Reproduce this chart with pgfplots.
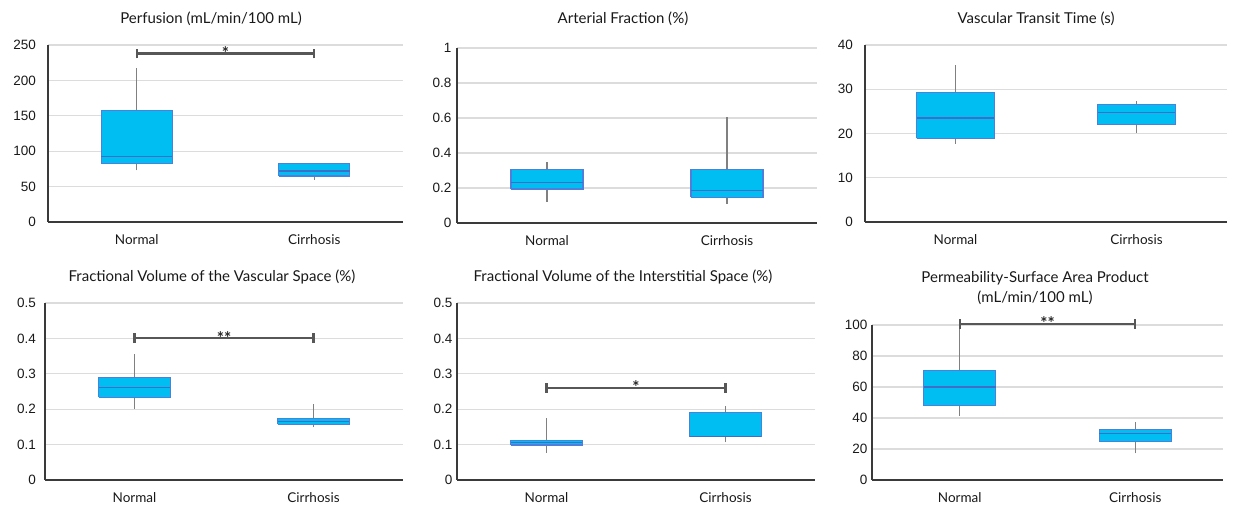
\documentclass[border=0pt]{standalone}
\usepackage{pgfplots}
\pgfplotsset{compat=1.18}
\usepackage{fontspec}
\setmainfont{Lato}
\newfontfamily\tickfont{Liberation Sans}
\definecolor{boxfill}{HTML}{00BEF2}
\definecolor{boxline}{HTML}{4F7FDD}
\definecolor{medline}{HTML}{3F6EC9}
\definecolor{whisk}{HTML}{808080}
\definecolor{brk}{HTML}{575757}
\definecolor{gridc}{HTML}{DCDCDC}
\definecolor{axc}{HTML}{3A3A3A}
\pgfplotsset{
  panel/.style={
    scale only axis, anchor=south west,
    xmin=-0.5, xmax=1.5, ymin=0,
    xtick={0,1}, xticklabels={Normal,Cirrhosis},
    axis x line*=bottom, axis y line*=left,
    axis line style={draw=axc, line width=1.5pt},
    tick style={draw=none},
    ymajorgrids, grid style={draw=gridc, line width=1.2pt},
    scaled y ticks=false,
    /pgf/number format/assume math mode=true,
    yticklabel style={font=\fontsize{13.5}{15}\selectfont\tickfont, color=black!90},
    xticklabel style={font=\fontsize{13.5}{15}\selectfont, yshift=-9.5pt, color=black!90},
    clip=false,
  },
}
% box: xl, xc, xr, lower whisker, lower quartile, median, upper quartile, upper whisker
\newcommand{\bxp}[8]{%
  \addplot[whisk, line width=1.4pt] coordinates {(#2,#4) (#2,#5)};
  \addplot[whisk, line width=1.4pt] coordinates {(#2,#7) (#2,#8)};
  \addplot[draw=boxline, fill=boxfill, line width=1.1pt] coordinates {(#1,#5) (#3,#5) (#3,#7) (#1,#7) (#1,#5)};
  \addplot[medline, line width=1.3pt] coordinates {(#1,#6) (#3,#6)};
}
% bracket: y, cap low, cap high, label
\newcommand{\brkt}[4]{%
  \addplot[brk, line width=2.2pt] coordinates {(0,#1) (1,#1)};
  \addplot[brk, line width=2.2pt] coordinates {(0,#2) (0,#3)};
  \addplot[brk, line width=2.2pt] coordinates {(1,#2) (1,#3)};
  \node[anchor=base, inner sep=0pt, yshift=-6pt, font=\fontsize{17}{18}\selectfont\bfseries, text=black!85] at (axis cs:0.5,#1) {#4};
}
\begin{document}
\begin{tikzpicture}
\useasboundingbox (0pt,0pt) rectangle (1235pt,506pt);
\tikzset{ttl/.style={font=\fontsize{15}{17}\selectfont, color=black!90}}
% titles
\node[ttl] at (211pt,487pt) {Perfusion (mL/min/100 mL)};
\node[ttl] at (623pt,487pt) {Arterial Fraction (\%)};
\node[ttl] at (1036pt,487pt) {Vascular Transit Time (s)};
\node[ttl] at (212pt,229pt) {Fractional Volume of the Vascular Space (\%)};
\node[ttl] at (623pt,229pt) {Fractional Volume of the Interstitial Space (\%)};
\node[ttl] at (1035pt,228pt) {Permeability-Surface Area Product};
\node[ttl] at (1035pt,208pt) {(mL/min/100 mL)};

% Panel 1
\begin{axis}[panel, at={(48pt,284pt)}, width=355pt, height=177pt, ymax=250, ytick={0,50,...,250},
  yticklabel style={xshift=-8.5pt}]
\bxp{-0.2}{0}{0.2}{73}{83}{93}{157}{218}
\bxp{0.8}{1}{1.2}{60}{65}{72}{82}{82}
\brkt{238}{231}{245}{*}
\end{axis}

% Panel 2
\begin{axis}[panel, at={(457pt,283pt)}, width=360pt, height=175pt, ymax=1, ytick={0,0.2,...,1},
  yticklabel style={xshift=-2pt}]
\bxp{-0.2}{0}{0.2}{0.12}{0.194}{0.232}{0.304}{0.347}
\bxp{0.8}{1}{1.2}{0.108}{0.146}{0.184}{0.304}{0.607}
\end{axis}

% Panel 3
\begin{axis}[panel, at={(865pt,284pt)}, width=362pt, height=177pt, ymax=40, ytick={0,10,...,40},
  yticklabel style={xshift=-8.5pt}]
\bxp{-0.215}{0}{0.215}{17.6}{18.9}{23.5}{29.2}{35.4}
\bxp{0.785}{1}{1.215}{20.2}{22.0}{24.8}{26.5}{27.3}
\end{axis}

% Panel 4
\begin{axis}[panel, at={(45pt,26pt)}, width=358pt, height=177pt, ymax=0.5, ytick={0,0.1,...,0.5},
  yticklabel style={xshift=-5.5pt}]
\bxp{-0.2}{0}{0.2}{0.201}{0.234}{0.261}{0.289}{0.356}
\bxp{0.8}{1}{1.2}{0.149}{0.158}{0.165}{0.173}{0.214}
\brkt{0.401}{0.387}{0.415}{**}
\end{axis}

% Panel 5
\begin{axis}[panel, at={(457pt,26pt)}, width=358pt, height=177pt, ymax=0.5, ytick={0,0.1,...,0.5},
  yticklabel style={xshift=-1pt}]
\bxp{-0.2}{0}{0.2}{0.077}{0.099}{0.105}{0.112}{0.174}
\bxp{0.8}{1}{1.2}{0.107}{0.122}{0.122}{0.191}{0.209}
\brkt{0.260}{0.246}{0.274}{*}
\end{axis}

% Panel 6
\begin{axis}[panel, at={(872pt,26pt)}, width=351pt, height=155pt, ymax=100, ytick={0,20,...,100},
  yticklabel style={xshift=-1pt}]
\bxp{-0.205}{0}{0.205}{41.3}{48}{60}{70.5}{97.2}
\bxp{0.795}{1}{1.205}{17.2}{24.9}{29.9}{32.7}{37.2}
\brkt{100.9}{97.7}{104.1}{**}
\end{axis}
\end{tikzpicture}
\end{document}
